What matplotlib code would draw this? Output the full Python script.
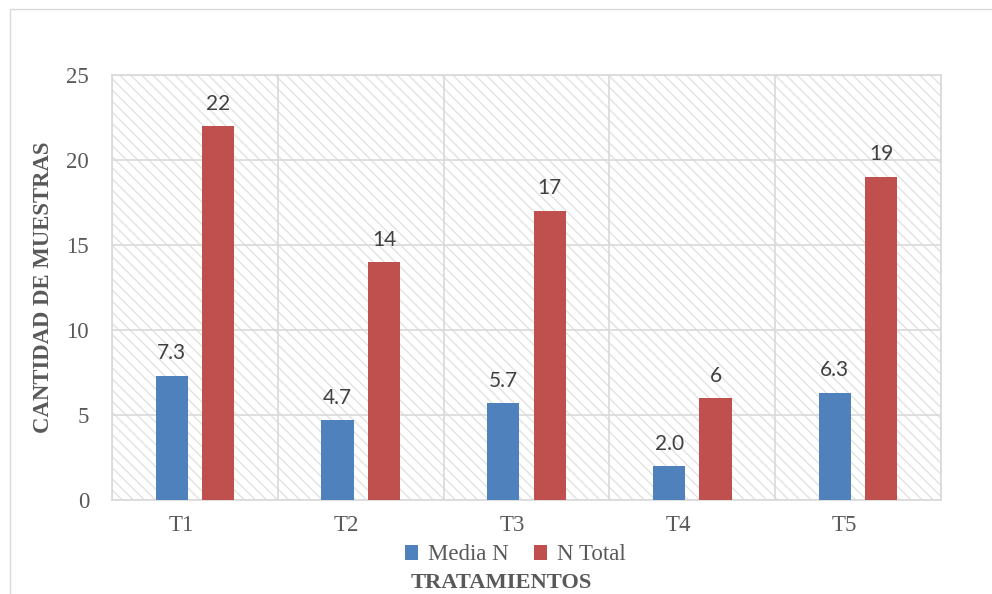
import matplotlib
matplotlib.use("Agg")
import matplotlib.pyplot as plt
import matplotlib.transforms as mtransforms
import numpy as np
from matplotlib.patches import Rectangle

categories = ["T1", "T2", "T3", "T4", "T5"]
media_n = [7.3, 4.7, 5.7, 2.0, 6.3]
n_total = [22, 14, 17, 6, 19]
media_labels = ["7.3", "4.7", "5.7", "2.0", "6.3"]
total_labels = ["22", "14", "17", "6", "19"]

plt.rcParams['font.family'] = ['Liberation Serif']
plt.rcParams['hatch.linewidth'] = 1.0
plt.rcParams['hatch.color'] = '#e2e2e2'

blue = '#4f81bd'
red = '#c0504d'
grid = '#d9d9d9'
txt = '#595959'
dtxt = '#404040'

fig = plt.figure(figsize=(9.92, 5.94), dpi=100)
# outer frame
fig.patches.append(Rectangle((10/992, -0.1), 1.2, (594-9)/594 + 0.1, transform=fig.transFigure,
                             fill=False, edgecolor='#d9d9d9', linewidth=1.0))
ax = fig.add_axes([112/992, (594-500)/594, (941-112)/992, (500-75)/594])

bg = Rectangle((0, 0), 1, 1, transform=ax.transAxes, facecolor='white',
               edgecolor='#e2e2e2', hatch='\\\\\\', linewidth=0, zorder=0)
ax.add_patch(bg)

x = np.arange(len(categories))
w = 0.195
off = 0.14
b1 = ax.bar(x - off, media_n, w, color=blue, label='Media N', zorder=3)
b2 = ax.bar(x + off, n_total, w, color=red, label='N Total', zorder=3)

for bars, labs in ((b1, media_labels), (b2, total_labels)):
    for rect, lab in zip(bars, labs):
        ax.annotate(lab, (rect.get_x() + rect.get_width()/2, rect.get_height()),
                    xytext=(0, 9), textcoords='offset points', ha='center', va='bottom',
                    fontsize=15, color=dtxt, family='Lato')

ax.set_xlim(-0.5, len(categories) - 0.5)
ax.set_ylim(0, 25)
ax.set_yticks([0, 5, 10, 15, 20, 25])
ax.set_xticks(x)
ax.set_xticklabels(categories)
ax.set_xticks(np.arange(len(categories) + 1) - 0.5, minor=True)
ax.grid(True, which='major', axis='y', color=grid, linewidth=1.2, zorder=1)
ax.grid(True, which='minor', axis='x', color=grid, linewidth=1.2, zorder=1)
ax.set_axisbelow(True)
ax.tick_params(axis='both', which='both', length=0, labelsize=16.5, labelcolor=txt)
ax.tick_params(axis='y', pad=16.5)
ax.tick_params(axis='x', pad=11)
shift = mtransforms.ScaledTranslation(-14/100, 0, fig.dpi_scale_trans)
for lbl in ax.get_xticklabels():
    lbl.set_transform(lbl.get_transform() + shift)
for s in ax.spines.values():
    s.set_color(grid)
    s.set_linewidth(1.2)

ax.set_ylabel('CANTIDAD DE MUESTRAS', fontsize=16.4, fontweight='bold', color=txt,
              labelpad=9)
fig.text(501/992, (594-583)/594, 'TRATAMIENTOS', fontsize=16.2, fontweight='bold',
         color=txt, ha='center', va='center')

leg = fig.legend(handles=[b1, b2], loc='center', bbox_to_anchor=(515/992, (594-555)/594),
                 ncol=2, frameon=False, fontsize=16.5, handlelength=0.6, handleheight=0.6,
                 handletextpad=0.4, columnspacing=1.1, labelcolor=txt,
                 borderpad=0, borderaxespad=0)

fig.savefig('out.png', dpi=100)
